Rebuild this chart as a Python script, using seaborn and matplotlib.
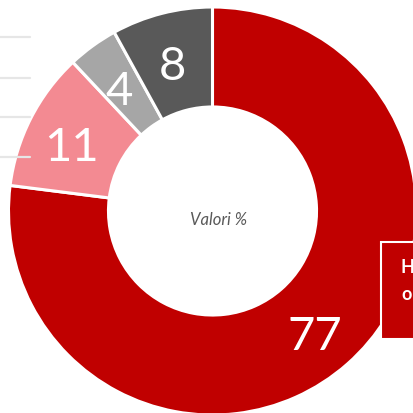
import matplotlib
matplotlib.use("Agg")
import matplotlib.pyplot as plt
import seaborn as sns
import numpy as np
from matplotlib.patches import Rectangle
from matplotlib.lines import Line2D

sns.set_theme(style="white")
plt.rcParams['font.family'] = ['Lato', 'DejaVu Sans']

categories = ["A", "B", "C", "D"]
values = [77, 11, 4, 8]
colors = ["#C00000", "#F38A92", "#A6A6A6", "#595959"]
center_text = "Valori %"
box_lines = ["H", "o"]

W, H = 413, 414
fig = plt.figure(figsize=(W / 100, H / 100), dpi=100)

cx, cy, R = 212.5, 212.0, 204.0
for py in [38, 79, 118, 158]:
    fig.add_artist(Line2D([0, 30 / W], [1 - py / H, 1 - py / H], color="#E6E6E6", lw=1.6))

ax = fig.add_axes([0, 0, 1, 1])
ax.axis("off")

wedges, _ = ax.pie(values, colors=colors, startangle=90, counterclock=False,
                   radius=1.0, wedgeprops=dict(width=0.49, edgecolor="white", linewidth=2.2))
ax.set_aspect("auto")
ax.set_xlim(-cx / R, (W - cx) / R)
ax.set_ylim(-(H - cy) / R, cy / R)

total = sum(values)
acc = 0
for v in values:
    mid = (acc + v / 2) / total * 360
    ang = np.deg2rad(90 - mid)
    r = 0.77
    ax.text(r * np.cos(ang) - 0.005, r * np.sin(ang) - 0.035, str(v), ha="center",
            va="center", color="white", fontsize=34)
    acc += v

ax.text(0.03, -0.04, center_text, ha="center", va="center", fontsize=12,
        style="italic", color="#595959")

bx0 = (381 - cx) / R
by_top = (cy - 243) / R
by_bot = (cy - 340) / R
ax.add_patch(Rectangle((bx0, by_bot), 1.2, by_top - by_bot, facecolor="#C00000",
                       edgecolor="white", linewidth=1.5, zorder=5))
ax.text((400 - cx) / R, (cy - 268) / R, box_lines[0], color="white", fontsize=13,
        fontweight="bold", ha="left", va="center", zorder=6)
ax.text((401 - cx) / R, (cy - 295) / R, box_lines[1], color="white", fontsize=13,
        fontweight="bold", ha="left", va="center", zorder=6)

fig.savefig("out.png", dpi=100)
